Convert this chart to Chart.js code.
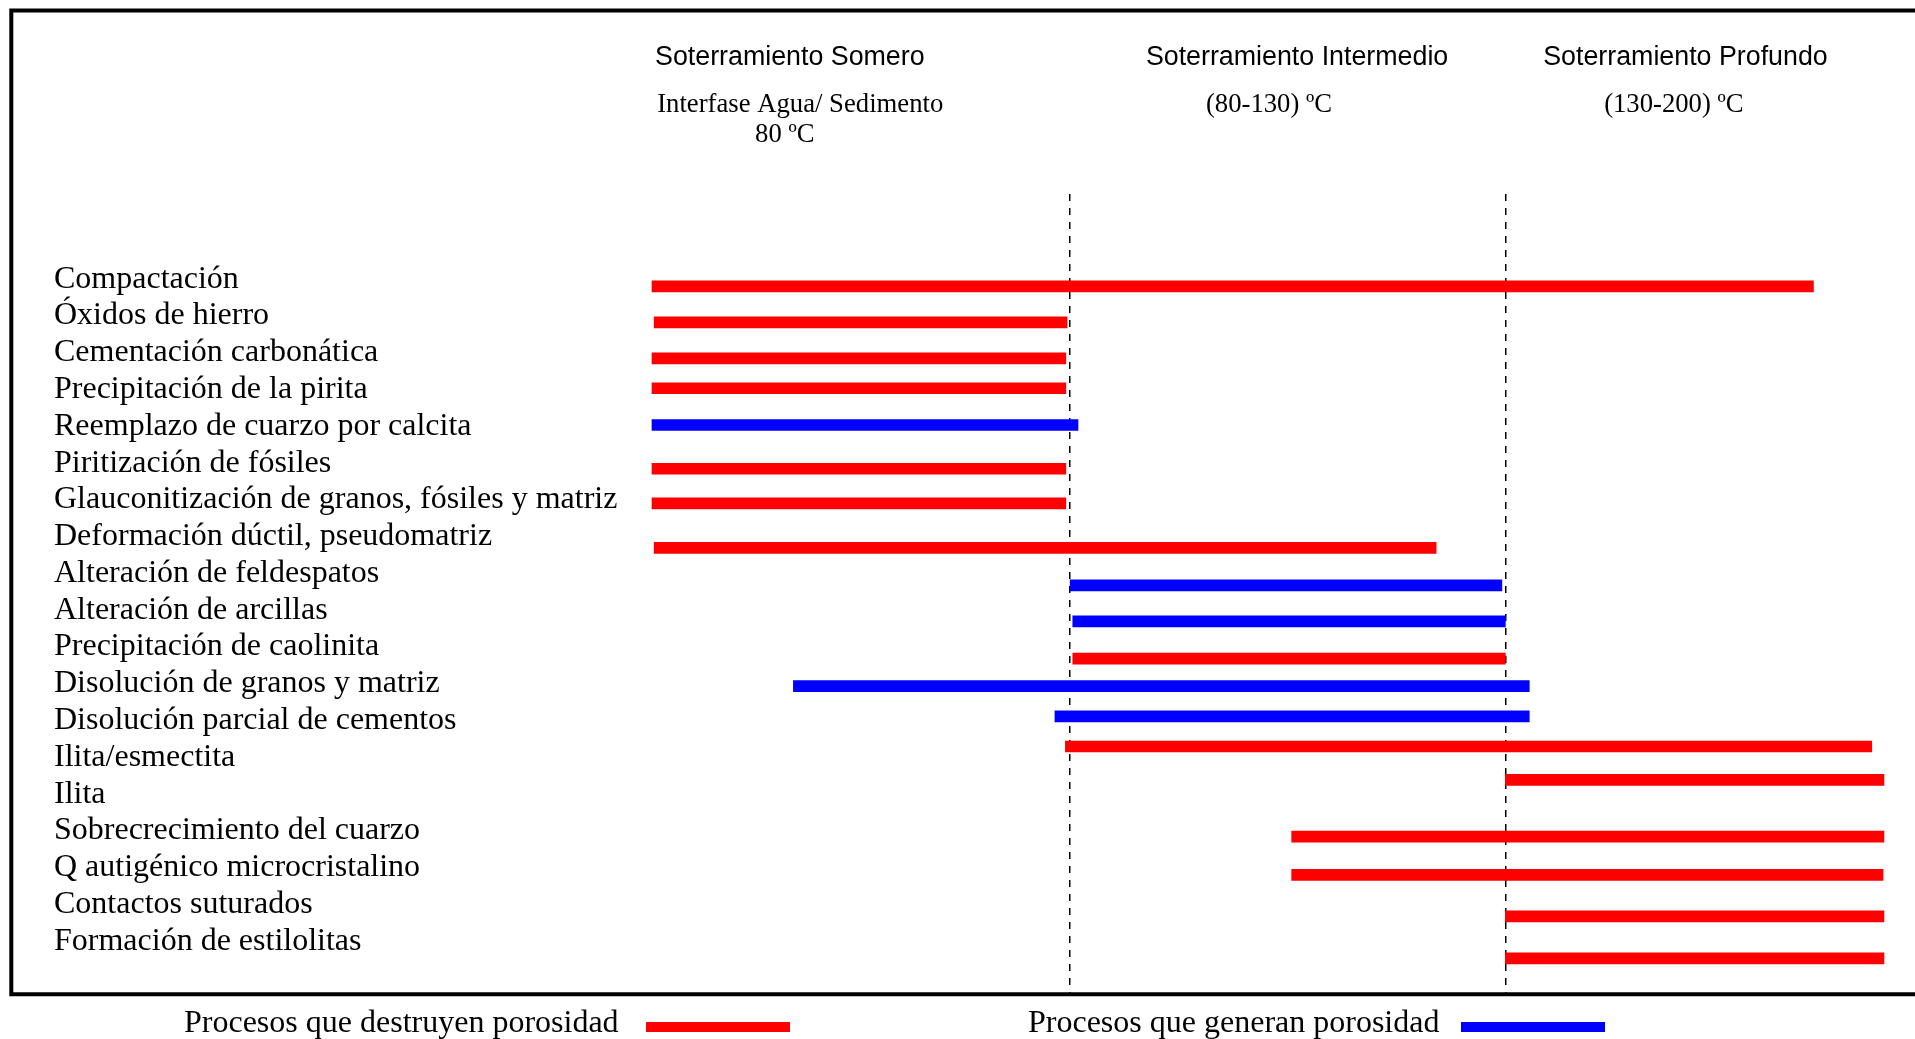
<!DOCTYPE html>
<html>
<head>
<meta charset="utf-8">
<title>Procesos diagenéticos</title>
<script src="https://cdn.jsdelivr.net/npm/chart.js@4.4.0/dist/chart.umd.min.js"></script>
<style>
    html, body { margin: 0; padding: 0; background: #fff; }
    canvas { display: block; }
</style>
</head>
<body>
<canvas id="diagenesisChart" width="1915" height="1039"></canvas>
<script>
"use strict";

// Diagenetic processes, top to bottom (y axis labels)
const processNames = [
    "Compactación",
    "Óxidos de hierro",
    "Cementación carbonática",
    "Precipitación de la pirita",
    "Reemplazo de cuarzo por calcita",
    "Piritización de fósiles",
    "Glauconitización de granos, fósiles y matriz",
    "Deformación dúctil, pseudomatriz",
    "Alteración de feldespatos",
    "Alteración de arcillas",
    "Precipitación de caolinita",
    "Disolución de granos y matriz",
    "Disolución parcial de cementos",
    "Ilita/esmectita",
    "Ilita",
    "Sobrecrecimiento del cuarzo",
    "Q autigénico microcristalino",
    "Contactos suturados",
    "Formación de estilolitas"
];

// Row where each bar sits (label rows are 0..18, bars are a bit off the labels)
const barRows = [0.26, 1.24, 2.22, 3.03, 4.03, 5.22, 6.16, 7.37, 8.39, 9.37,
    10.38, 11.13, 11.95, 12.77, 13.68, 15.22, 16.26, 17.39, 18.53];

// Start / end of each process in burial stage units (1 = 80 ºC, 2 = 130 ºC)
const barStart = [0.039, 0.044, 0.039, 0.039, 0.039, 0.039, 0.039, 0.044, 1.000, 1.006,
    1.006, 0.364, 0.965, 0.989, 2.000, 1.509, 1.509, 2.000, 2.000];
const barEnd = [2.708, 0.993, 0.990, 0.990, 1.018, 0.990, 0.990, 1.841, 1.992, 2.000,
    2.000, 2.055, 2.055, 2.842, 2.870, 2.870, 2.868, 2.870, 2.870];

// d = destroys porosity, g = generates porosity
const barKind = ["d", "d", "d", "d", "g", "d", "d", "d", "g", "g",
    "d", "g", "g", "d", "d", "d", "d", "d", "d"];

// Stage headers and boundaries
const stageTitles = ["Soterramiento Somero", "Soterramiento Intermedio", "Soterramiento Profundo"];
const stageTemps = [["Interfase Agua/ Sedimento", "80 ºC"], ["(80-130) ºC"], ["(130-200) ºC"]];
const stageBounds = [1, 2];

const legendLabels = ["Procesos que destruyen porosidad", "Procesos que generan porosidad"];

const RED = "#ff0000";
const BLUE = "#0000ff";
const SERIF = "'Liberation Serif', 'Times New Roman', serif";
const SANS = "'Liberation Sans', Arial, sans-serif";

function buildData(kind) {
    let out = [];
    processNames.forEach(function (name, i) {
        if (barKind[i] === kind) {
            out.push({ y: barRows[i], x: [barStart[i], barEnd[i]], name: name });
        }
    });
    return out;
}

// Outer frame (open on the right side, like the original figure)
const framePlugin = {
    id: "frame",
    afterDraw: function (chart) {
        const ctx = chart.ctx;
        ctx.save();
        ctx.strokeStyle = "#000";
        ctx.lineWidth = 4;
        ctx.beginPath();
        ctx.moveTo(chart.width, 10.4);
        ctx.lineTo(11.3, 10.4);
        ctx.lineTo(11.3, 994.3);
        ctx.lineTo(chart.width, 994.3);
        ctx.stroke();
        ctx.restore();
    }
};

// Stage names and temperatures above the chart area
const headerPlugin = {
    id: "stageHeaders",
    afterDraw: function (chart) {
        const ctx = chart.ctx;
        const xs = chart.scales.x;
        const titleAt = [0.046, 1.174, 2.087];
        const tempAt = [[0.051, 0.276], [1.312], [2.227]];
        ctx.save();
        ctx.fillStyle = "#000";
        ctx.textAlign = "left";
        ctx.textBaseline = "alphabetic";
        ctx.font = "26.8px " + SANS;
        stageTitles.forEach(function (t, i) {
            ctx.fillText(t, xs.getPixelForValue(titleAt[i]), 65);
        });
        ctx.font = "26.7px " + SERIF;
        stageTemps.forEach(function (lines, i) {
            lines.forEach(function (t, j) {
                ctx.fillText(t, xs.getPixelForValue(tempAt[i][j]), 111.5 + j * 30);
            });
        });
        ctx.restore();
    }
};

// Legend below the frame: text first, colour swatch after it
const legendPlugin = {
    id: "porosityLegend",
    afterDraw: function (chart) {
        const ctx = chart.ctx;
        const textX = [184, 1028];
        const swatchX = [646, 1461];
        ctx.save();
        ctx.font = "32px " + SERIF;
        ctx.textAlign = "left";
        ctx.textBaseline = "alphabetic";
        chart.data.datasets.forEach(function (ds, i) {
            ctx.fillStyle = "#000";
            ctx.fillText(ds.label, textX[i], 1031.5);
            ctx.fillStyle = ds.backgroundColor;
            ctx.fillRect(swatchX[i], 1022, 144, 10);
        });
        ctx.restore();
    }
};

const ctx = document.getElementById("diagenesisChart").getContext("2d");

const barDefaults = {
    grouped: false,
    barThickness: 11,
    barPercentage: 1,
    categoryPercentage: 1,
    borderWidth: 0
};

this.myChart = new Chart(ctx, {
    type: "bar",
    data: {
        datasets: [
            Object.assign({ label: legendLabels[0], data: buildData("d"), backgroundColor: RED }, barDefaults),
            Object.assign({ label: legendLabels[1], data: buildData("g"), backgroundColor: BLUE }, barDefaults)
        ]
    },
    options: {
        indexAxis: "y",
        responsive: false,
        animation: false,
        layout: {
            padding: { left: 54, top: 194, right: 18, bottom: 45 }
        },
        scales: {
            x: {
                type: "linear",
                position: "bottom",
                min: 0,
                max: 2.9,
                afterBuildTicks: function (axis) {
                    axis.ticks = stageBounds.map(function (v) { return { value: v }; });
                },
                ticks: { display: false },
                grid: {
                    color: "#000",
                    lineWidth: 1.5,
                    drawTicks: false
                },
                border: { display: false, dash: [7, 7] }
            },
            y: {
                type: "linear",
                reverse: true,
                offset: false,
                min: -2.25,
                max: 19.5,
                afterBuildTicks: function (axis) {
                    axis.ticks = processNames.map(function (n, i) { return { value: i }; });
                },
                afterFit: function (axis) {
                    axis.width = 581;
                },
                ticks: {
                    autoSkip: false,
                    crossAlign: "far",
                    padding: 0,
                    labelOffset: 2.5,
                    color: "#000",
                    font: { family: SERIF, size: 32, lineHeight: 1 },
                    callback: function (value) {
                        return processNames[value];
                    }
                },
                grid: { display: false, offset: false, drawTicks: false },
                border: { display: false }
            }
        },
        plugins: {
            legend: { display: false },
            tooltip: { enabled: false }
        }
    },
    plugins: [framePlugin, headerPlugin, legendPlugin]
});
</script>
</body>
</html>
